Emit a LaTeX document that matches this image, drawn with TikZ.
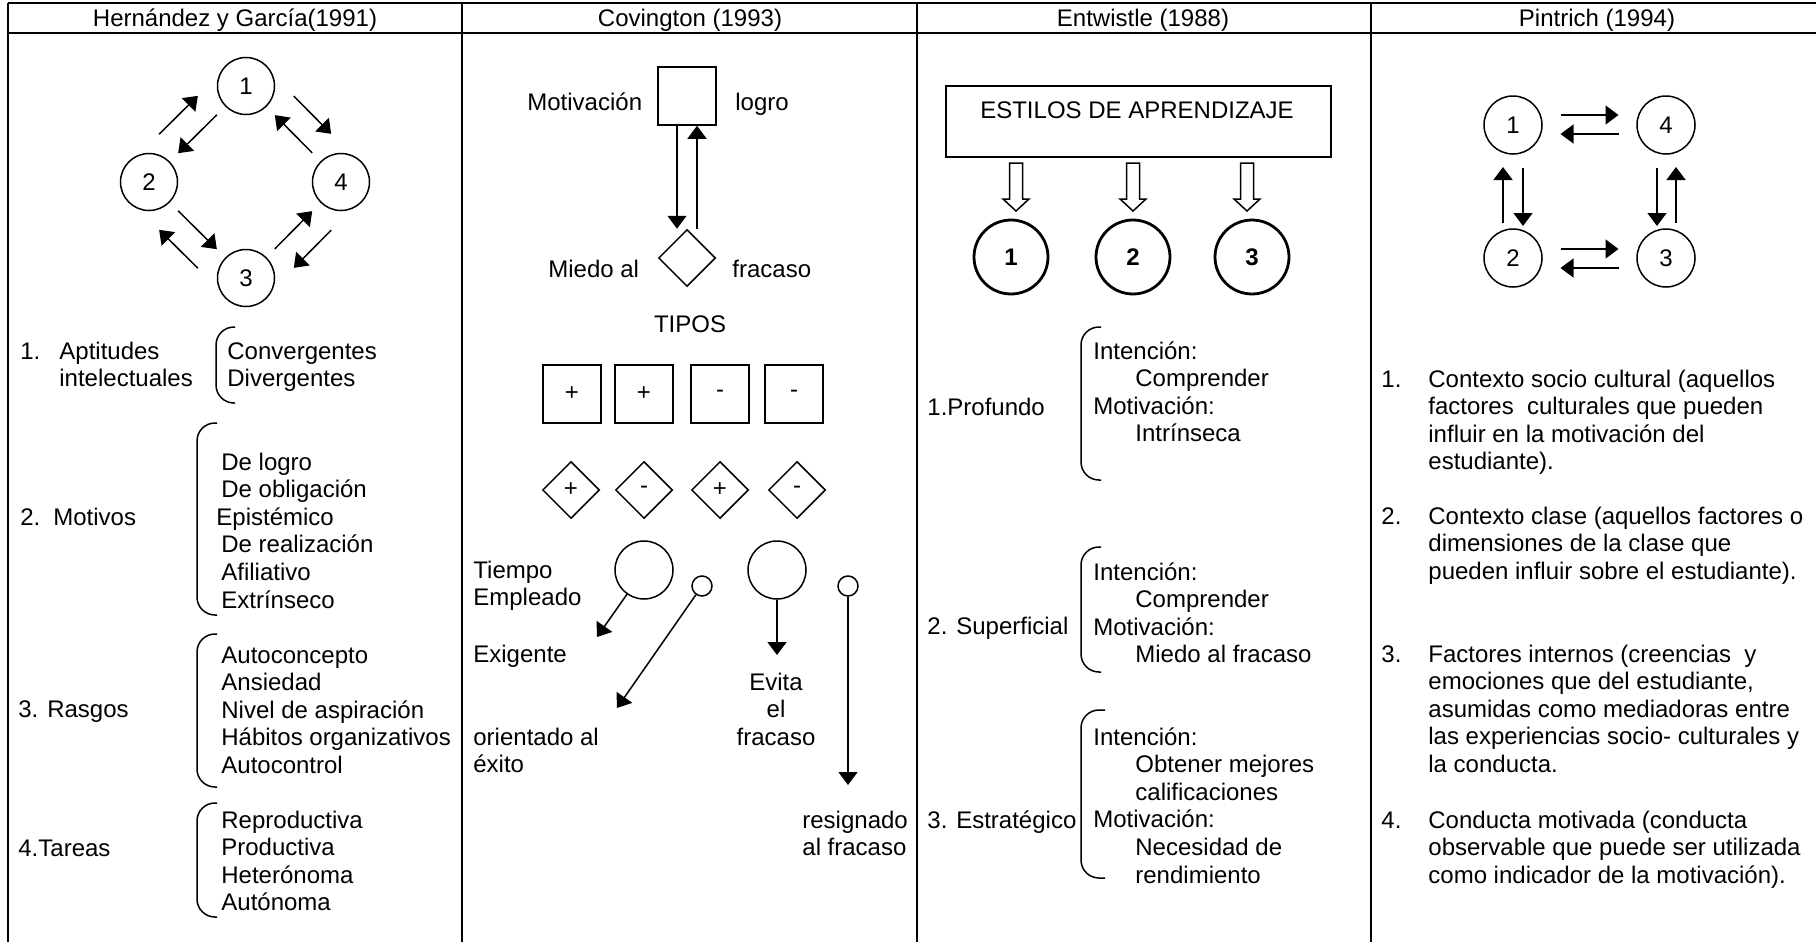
\documentclass[tikz,border=0pt]{standalone}
\usepackage{fontspec}
\setmainfont{Liberation Sans}
\usetikzlibrary{arrows.meta,shapes.geometric}

% multi-line text blocks whose baseline is the first line
\newcommand\ml[1]{\begin{tabular}[t]{@{}l@{}}#1\end{tabular}}
\newcommand\mc[1]{\begin{tabular}[t]{@{}c@{}}#1\end{tabular}}

\begin{document}
\begin{tikzpicture}[x=0.5pt,y=-0.5pt,
  every node/.style={font=\fontsize{12}{13.8}\selectfont, inner sep=0pt},
  txt/.style={anchor=base west},
  grid/.style={line width=1pt},
  arr/.style={line width=0.75pt, -{Triangle[length=6.5pt,width=9.5pt]}},
  endgap/.style={shorten <=#1, shorten >=#1},
  ring/.style={circle, draw, line width=0.75pt, minimum size=#1},
  boldring/.style={circle, draw, line width=1.4pt, minimum size=37pt, font=\fontsize{12}{13.8}\selectfont\bfseries},
  sqbox/.style={rectangle, draw, line width=0.75pt, minimum size=29pt},
  dmbox/.style={diamond, draw, line width=0.75pt, minimum size=28.5pt, aspect=1},
  brk/.style={line width=0.75pt, rounded corners=9pt},
  blk/.style={line width=0.75pt, fill=white, line join=miter}
]
\useasboundingbox (0,0) rectangle (1816,942);
\fill[white] (0,0) rectangle (1816,942);

% ---------- table frame ----------
\draw[grid] (8,3) -- (1816,3);
\draw[grid] (8,33) -- (1816,33);
\foreach \x in {8,462,917,1371} \draw[grid] (\x,3) -- (\x,942);

\node[anchor=base] (hd1) at (235,26.5) {Hernández y García(1991)};
\node[anchor=base] (hd2) at (690,26.5) {Covington (1993)};
\node[anchor=base] (hd3) at (1143,26.5) {Entwistle (1988)};
\node[anchor=base] (hd4) at (1597,26.5) {Pintrich (1994)};

% ---------- Hernández y García ----------
\node[ring=28.5pt] (h1) at (246,86) {1};
\node[ring=28.5pt] (h2) at (149,182) {2};
\node[ring=28.5pt] (h4) at (341,182) {4};
\node[ring=28.5pt] (h3) at (246,278) {3};

\draw[arr, endgap=20.5pt] (h1.center) -- (h2.center);
\draw[arr, endgap=20.5pt] ([shift={(-19,-19)}]h2.center) -- ([shift={(-19,-19)}]h1.center);
\draw[arr, endgap=20.5pt] (h4.center) -- (h1.center);
\draw[arr, endgap=20.5pt] ([shift={(19,-19)}]h1.center) -- ([shift={(19,-19)}]h4.center);
\draw[arr, endgap=20.5pt] (h2.center) -- (h3.center);
\draw[arr, endgap=20.5pt] ([shift={(-19,19)}]h3.center) -- ([shift={(-19,19)}]h2.center);
\draw[arr, endgap=20.5pt] (h3.center) -- (h4.center);
\draw[arr, endgap=20.5pt] ([shift={(19,19)}]h4.center) -- ([shift={(19,19)}]h3.center);

\node[txt] (apn) at (20,359) {1.};
\node[txt] (apt) at (59,359) {\ml{Aptitudes\\intelectuales}};
\draw[brk] (235,327) -- (216,327) -- (216,403) -- (235,403);
\node[txt] (apl) at (227,359) {\ml{Convergentes\\Divergentes}};

\node[txt] (mon) at (20,525) {2.};
\node[txt] (mot) at (53,525) {Motivos};
\draw[brk] (217,423) -- (197,423) -- (197,615) -- (217,615);
\node[txt] (mol) at (216,470) {\ml{\hspace*{2.5pt}De logro\\\hspace*{2.5pt}De obligación\\Epistémico\\\hspace*{2.5pt}De realización\\\hspace*{2.5pt}Afiliativo\\\hspace*{2.5pt}Extrínseco}};

\node[txt] (rat) at (18,717) {3. Rasgos};
\draw[brk] (217,634) -- (197,634) -- (197,787) -- (217,787);
\node[txt] (ral) at (221,663) {\ml{Autoconcepto\\Ansiedad\\Nivel de aspiración\\Hábitos organizativos\\Autocontrol}};

\node[txt] (tat) at (18,856) {4.Tareas};
\draw[brk] (217,803) -- (197,803) -- (197,917) -- (217,917);
\node[txt] (tal) at (221,828) {\ml{Reproductiva\\Productiva\\Heterónoma\\Autónoma}};

% ---------- Covington ----------
\node[sqbox] (sq) at (687,96) {};
\node[txt] (mlo) at (527,110) {Motivación};
\node[txt] (mlg) at (735,110) {logro};
\node[dmbox] (dm) at (687,258) {};
\node[txt] (mfa) at (548,277) {Miedo al};
\node[txt] (mfb) at (732,277) {fracaso};
\draw[arr] ([xshift=-5pt]sq.south) -- ([xshift=-5pt]dm.north);
\draw[arr] ([xshift=5pt]dm.north) -- ([xshift=5pt]sq.south);

\node[anchor=base] (tipos) at (690,332) {TIPOS};
\node[sqbox] (t1) at (572,394) {+};
\node[sqbox] (t2) at (644,394) {+};
\node[sqbox] (t3) at (720,394) {-};
\node[sqbox] (t4) at (794,394) {-};
\node[dmbox] (d1) at (571,490) {+};
\node[dmbox] (d2) at (644,490) {-};
\node[dmbox] (d3) at (720,490) {+};
\node[dmbox] (d4) at (797,490) {-};

\node[ring=29pt] (ca) at (644,570) {};
\node[ring=10pt] (cb) at (702,586) {};
\node[ring=29pt] (cc) at (777,570) {};
\node[ring=10pt] (cd) at (848,586) {};
\coordinate (ex1) at (597,637);
\coordinate (ex2) at (617,708);
\coordinate (ex3) at (777,655);
\coordinate (ex4) at (848,785);
\draw[arr] (ca) -- (ex1);
\draw[arr] (cb) -- (ex2);
\draw[arr] (cc) -- (ex3);
\draw[arr] (cd) -- (ex4);

\node[txt] (tie) at (473,578) {\ml{Tiempo\\Empleado}};
\node[txt] (exi) at (473,662) {Exigente};
\node[txt] (ori) at (473,745) {\ml{orientado al\\éxito}};
\node[anchor=base] (evi) at (776,690) {\mc{Evita\\el\\fracaso}};
\node[txt] (res) at (802,828) {\ml{resignado\\al fracaso}};

% ---------- Entwistle ----------
\node[rectangle, draw, line width=0.75pt, minimum width=192.5pt, minimum height=35.5pt] (est) at (1138.5,121.5) {};
\node[anchor=base] (estt) at (1137,118) {ESTILOS DE APRENDIZAJE};
\coordinate (ah1) at (1016,163);
\coordinate (ah2) at (1133,163);
\coordinate (ah3) at (1247,163);
\foreach \a in {ah1,ah2,ah3}
  \draw[blk] (\a) ++(-6.5,0) -- ++(0,36) -- ++(-6.5,0) -- ++(13,12) -- ++(13,-12) -- ++(-6.5,0) -- ++(0,-36) -- cycle;
\node[boldring] (e1) at (1011,257) {1};
\node[boldring] (e2) at (1133,257) {2};
\node[boldring] (e3) at (1252,257) {3};

\node[txt] (prt) at (927,415) {1.Profundo};
\draw[brk] (1101,327) -- (1081,327) -- (1081,480) -- (1101,480);
\node[txt] (prl) at (1093,359) {\ml{Intención:\\\hspace*{21pt}Comprender\\Motivación:\\\hspace*{21pt}Intrínseca}};

\node[txt] (sut) at (927,634) {2. Superficial};
\draw[brk] (1101,547) -- (1081,547) -- (1081,672) -- (1101,672);
\node[txt] (sul) at (1093,580) {\ml{Intención:\\\hspace*{21pt}Comprender\\Motivación:\\\hspace*{21pt}Miedo al fracaso}};

\node[txt] (stt) at (927,828) {3. Estratégico};
\draw[brk] (1105,710) -- (1081,710) -- (1081,878) -- (1105,878);
\node[txt] (stl) at (1093,745) {\ml{Intención:\\\hspace*{21pt}Obtener mejores\\\hspace*{21pt}calificaciones\\Motivación:\\\hspace*{21pt}Necesidad de\\\hspace*{21pt}rendimiento}};

% ---------- Pintrich ----------
\node[ring=29pt] (p1) at (1513,125) {1};
\node[ring=29pt] (p4) at (1666,125) {4};
\node[ring=29pt] (p2) at (1513,258) {2};
\node[ring=29pt] (p3) at (1666,258) {3};

\draw[arr, endgap=23.75pt] ([yshift=5pt]p1.center) -- ([yshift=5pt]p4.center);
\draw[arr, endgap=23.75pt] ([yshift=-4.5pt]p4.center) -- ([yshift=-4.5pt]p1.center);
\draw[arr, endgap=23.75pt] ([yshift=4.5pt]p2.center) -- ([yshift=4.5pt]p3.center);
\draw[arr, endgap=23.75pt] ([yshift=-5pt]p3.center) -- ([yshift=-5pt]p2.center);
\draw[arr, shorten <=17.5pt, shorten >=21pt] ([xshift=-5pt]p2.center) -- ([xshift=-5pt]p1.center);
\draw[arr, shorten <=21.5pt, shorten >=16pt] ([xshift=5pt]p1.center) -- ([xshift=5pt]p2.center);
\draw[arr, shorten <=21.5pt, shorten >=16pt] ([xshift=-4.5pt]p4.center) -- ([xshift=-4.5pt]p3.center);
\draw[arr, shorten <=17.5pt, shorten >=21pt] ([xshift=5pt]p3.center) -- ([xshift=5pt]p4.center);

\node[txt] (pn1) at (1381,387) {1.};
\node[txt] (pt1) at (1428,387) {\ml{Contexto socio cultural (aquellos\\factores\ \ culturales que pueden\\influir en la motivación del\\estudiante).}};
\node[txt] (pn2) at (1381,524) {2.};
\node[txt] (pt2) at (1428,524) {\ml{Contexto clase (aquellos factores o\\dimensiones de la clase que\\pueden influir sobre el estudiante).}};
\node[txt] (pn3) at (1381,662) {3.};
\node[txt] (pt3) at (1428,662) {\ml{Factores internos (creencias\ \ y\\emociones que del estudiante,\\asumidas como mediadoras entre\\las experiencias socio- culturales y\\la conducta.}};
\node[txt] (pn4) at (1381,828) {4.};
\node[txt] (pt4) at (1428,828) {\ml{Conducta motivada (conducta\\observable que puede ser utilizada\\como indicador de la motivación).}};
\end{tikzpicture}
\end{document}
